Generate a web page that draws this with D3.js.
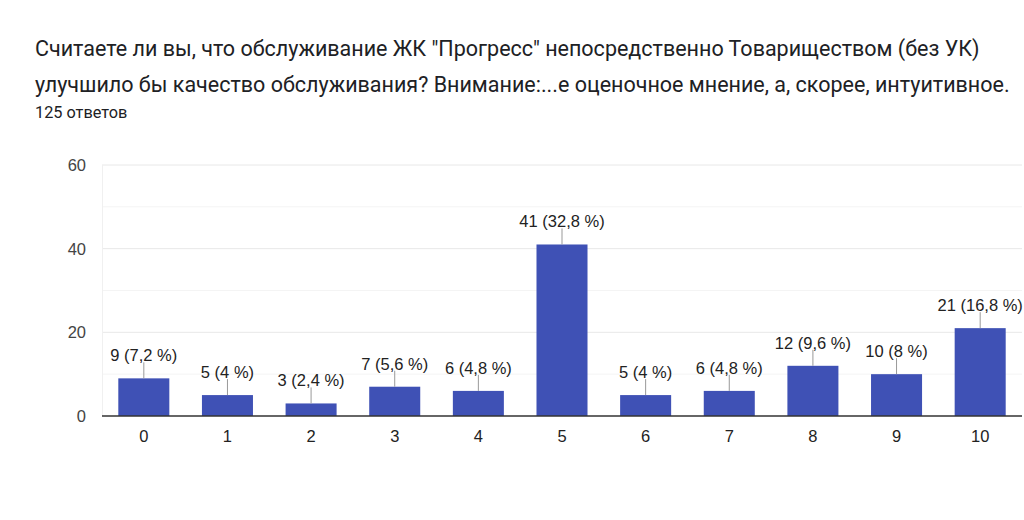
<!DOCTYPE html>
<html><head><meta charset="utf-8">
<script src="https://cdn.jsdelivr.net/npm/d3@7"></script>
<style>body{margin:0;background:#fff;font-family:Roboto,Arial,sans-serif}</style>
</head><body>
<svg id="c" width="1024" height="520"></svg>
<script>
const categories = ["0","1","2","3","4","5","6","7","8","9","10"];
const values = [9,5,3,7,6,41,5,6,12,10,21];
const labels = ["9 (7,2 %)","5 (4 %)","3 (2,4 %)","7 (5,6 %)","6 (4,8 %)","41 (32,8 %)","5 (4 %)","6 (4,8 %)","12 (9,6 %)","10 (8 %)","21 (16,8 %)"];
const yTicks = [0,20,40,60];
const minorTicks = [10,30,50];
const titleLines = ["Считаете ли вы, что обслуживание ЖК \"Прогресс\" непосредственно Товариществом (без УК)","улучшило бы качество обслуживания? Внимание:...е оценочное мнение, а, скорее, интуитивное."];
const subtitle = "125 ответов";

const svg = d3.select("#c");
const m = {l:102, r:1022, t:165, b:416};
const x = d3.scaleBand().domain(categories).range([m.l, m.r]).paddingInner(0.39).paddingOuter(0.195);
const y = d3.scaleLinear().domain([0,60]).range([m.b, m.t]);
const axFont = "Arial, 'Liberation Sans', sans-serif";

svg.selectAll("text.title").data(titleLines).join("text")
  .attr("x",35).attr("y",(d,i)=>56+i*36).attr("font-size",21.5).attr("fill","#202124").text(d=>d);
svg.append("text").attr("x",35).attr("y",118).attr("font-size",16.3).attr("fill","#202124").text(subtitle);

svg.selectAll("line.minor").data(minorTicks).join("line")
  .attr("x1",m.l).attr("x2",m.r).attr("y1",d=>y(d)).attr("y2",d=>y(d)).attr("stroke","#f4f4f4");
svg.selectAll("line.major").data(yTicks.filter(d=>d>0)).join("line")
  .attr("x1",m.l).attr("x2",m.r).attr("y1",d=>y(d)).attr("y2",d=>y(d)).attr("stroke","#e8e8e8");
svg.append("line").attr("x1",m.l+0.5).attr("x2",m.l+0.5).attr("y1",y(60)).attr("y2",y(0)).attr("stroke","#f0f0f0");

svg.selectAll("text.yt").data(yTicks).join("text")
  .attr("x",86).attr("y",d=>y(d)+6).attr("text-anchor","end").attr("font-size",16.5).attr("fill","#444")
  .attr("font-family",axFont).text(d=>d);

svg.selectAll("rect.bar").data(values).join("rect")
  .attr("x",(d,i)=>x(categories[i])).attr("width",x.bandwidth())
  .attr("y",d=>y(d)).attr("height",d=>y(0)-y(d)).attr("fill","#3f51b5");

svg.selectAll("line.lead").data(values).join("line")
  .attr("x1",(d,i)=>x(categories[i])+x.bandwidth()/2).attr("x2",(d,i)=>x(categories[i])+x.bandwidth()/2)
  .attr("y1",d=>y(d)).attr("y2",d=>y(d)-16).attr("stroke","#999");

svg.selectAll("text.lab").data(values).join("text")
  .attr("x",(d,i)=>x(categories[i])+x.bandwidth()/2).attr("y",d=>y(d)-17)
  .attr("text-anchor","middle").attr("font-size",16.5).attr("fill","#222")
  .attr("font-family",axFont).text((d,i)=>labels[i]);

svg.append("line").attr("x1",m.l).attr("x2",m.r).attr("y1",y(0)).attr("y2",y(0)).attr("stroke","#333").attr("stroke-width",1.5);

svg.selectAll("text.xt").data(categories).join("text")
  .attr("x",d=>x(d)+x.bandwidth()/2).attr("y",442).attr("text-anchor","middle").attr("font-size",16.5).attr("fill","#222")
  .attr("font-family",axFont).text(d=>d);
</script>
</body></html>
